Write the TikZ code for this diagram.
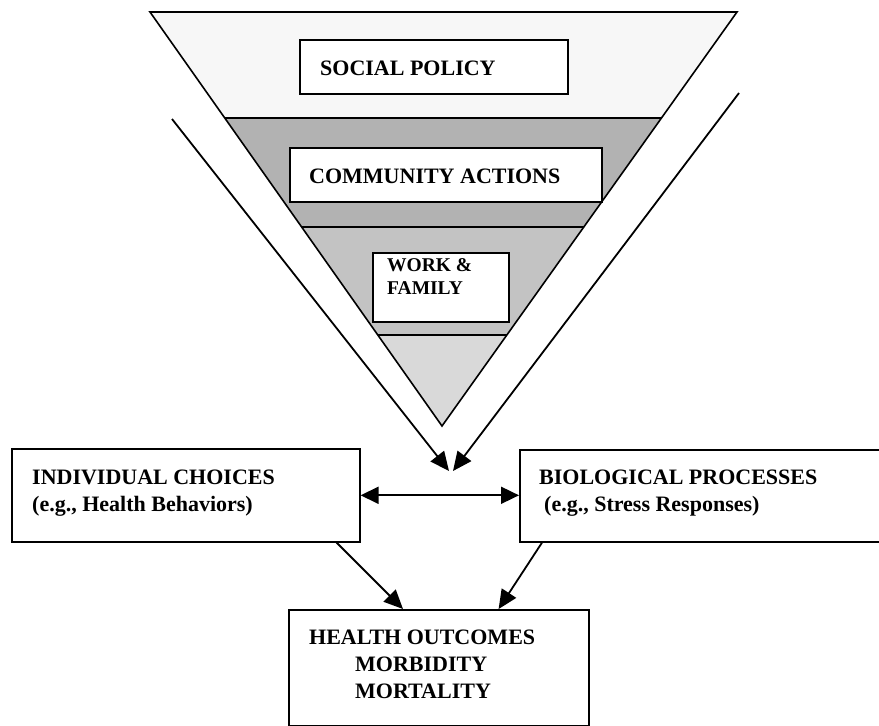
\documentclass[tikz,border=0pt]{standalone}
\usepackage{fontspec}
\setmainfont{Liberation Serif}
\usetikzlibrary{arrows.meta,calc}
\definecolor{bandA}{gray}{0.97}
\definecolor{bandB}{gray}{0.70}
\definecolor{bandC}{gray}{0.765}
\definecolor{bandD}{gray}{0.85}
\begin{document}
\begin{tikzpicture}[x=1pt,y=-1pt,
  box/.style={draw, line width=1.6pt, fill=white, inner sep=0pt, anchor=north west},
  txt/.style={anchor=base west, inner sep=0pt, font=\fontsize{22}{27}\selectfont\bfseries},
  txts/.style={anchor=base west, inner sep=0pt, font=\fontsize{19.5}{23}\selectfont\bfseries},
  edge/.style={line width=1.6pt},
  arr/.style={line width=1.8pt, -{Triangle[length=19pt,width=17pt]}},
  dbl/.style={line width=1.8pt, {Triangle[length=18pt,width=17pt]}-{Triangle[length=18pt,width=17pt]}},
]
\useasboundingbox (0,0) rectangle (879,726);
\clip (0,0) rectangle (879,726);

% inverted triangle with bands
\coordinate (tl) at (150,12);
\coordinate (tr) at (737,12);
\coordinate (apex) at (442,426);
\begin{scope}
  \clip (tl) -- (tr) -- (apex) -- cycle;
  \fill[bandA] (0,0) rectangle (879,118);
  \fill[bandB] (0,118) rectangle (879,227);
  \fill[bandC] (0,227) rectangle (879,335);
  \fill[bandD] (0,335) rectangle (879,430);
  \draw[edge] (0,118) -- (879,118);
  \draw[edge] (0,227) -- (879,227);
  \draw[edge] (0,335) -- (879,335);
\end{scope}
\draw[edge, line join=miter] (tl) -- (tr) -- (apex) -- cycle;

% boxes inside the triangle
\node[box, minimum width=268pt, minimum height=54pt] (sp) at (299,39) {};
\node[box, minimum width=312pt, minimum height=54pt] (ca) at (289,147) {};
\node[box, minimum width=136pt, minimum height=69pt] (wf) at (372,252) {};
\node[txt] (spt) at (320,75) {SOCIAL POLICY};
\node[txt] (cat) at (309,183) {COMMUNITY ACTIONS};
\node[txts] (wf1) at (387,271) {WORK \&};
\node[txts] (wf2) at (387,294) {FAMILY};

% lower boxes
\node[box, minimum width=348pt, minimum height=93pt] (ind) at (11,448) {};
\node[box, minimum width=364pt, minimum height=92pt] (bio) at (519,449) {};
\node[box, minimum width=300pt, minimum height=116pt] (ho) at (288,609) {};
\node[txt] (ind1) at (32,484) {INDIVIDUAL CHOICES};
\node[txt] (ind2) at (32,511) {(e.g., Health Behaviors)};
\node[txt] (bio1) at (539,484) {BIOLOGICAL PROCESSES};
\node[txt] (bio2) at (544,511) {(e.g., Stress Responses)};
\node[txt] (ho1) at (309,644) {HEALTH OUTCOMES};
\node[txt] (ho2) at (355,671) {MORBIDITY};
\node[txt] (ho3) at (355,698) {MORTALITY};

% converging arrows
\coordinate (la) at (172,119);
\coordinate (ra) at (739,93);
\coordinate (tipL) at (449,471);
\coordinate (tipR) at (453,471);
\draw[arr] (la) -- (tipL);
\draw[arr] (ra) -- (tipR);

% connectors
\draw[dbl] (ind.east) -- (bio.west |- ind.east);
\draw[arr] ([xshift=-24pt]ind.south east) -- ([xshift=115pt]ho.north west);
\draw[arr] ([xshift=23pt]bio.south west) -- ([xshift=-91pt]ho.north east);
\end{tikzpicture}
\end{document}
